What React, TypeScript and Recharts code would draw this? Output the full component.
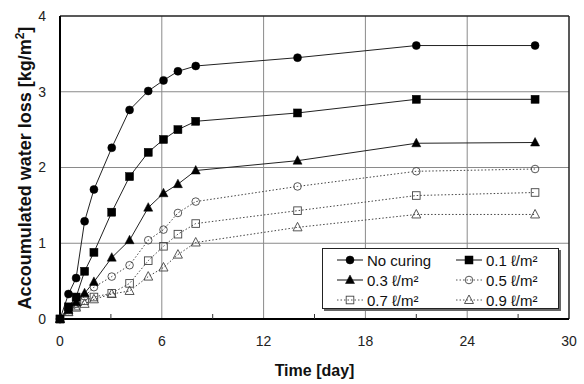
import { LineChart, Line, XAxis, YAxis, ReferenceLine } from "recharts";

// measurement days
const days = [0, 0.5, 0.95, 1.45, 2, 3.05, 4.1, 5.2, 6.1, 6.95, 8, 14, 21, 28];

// accumulated water loss [kg/m2]
const noCuring = [0, 0.33, 0.54, 1.29, 1.71, 2.26, 2.76, 3.01, 3.15, 3.27, 3.34, 3.45, 3.61, 3.61];
const cure01 = [0, 0.16, 0.29, 0.63, 0.88, 1.41, 1.88, 2.2, 2.37, 2.5, 2.61, 2.72, 2.9, 2.9];
const cure03 = [0, 0.12, 0.22, 0.34, 0.49, 0.81, 1.04, 1.47, 1.66, 1.78, 1.96, 2.09, 2.32, 2.33];
const cure05 = [0, 0.12, 0.2, 0.3, 0.42, 0.56, 0.71, 1.04, 1.18, 1.4, 1.55, 1.75, 1.95, 1.98];
const cure07 = [0, 0.1, 0.17, 0.24, 0.29, 0.34, 0.47, 0.77, 0.96, 1.12, 1.26, 1.43, 1.63, 1.67];
const cure09 = [0, 0.09, 0.15, 0.2, 0.26, 0.33, 0.37, 0.56, 0.68, 0.85, 1.01, 1.21, 1.38, 1.38];

const xTicks = [0, 3, 6, 9, 12, 15, 18, 21, 24, 27, 30];
const yTicks = [0, 1, 2, 3, 4];
const xGrid = [6, 12, 18, 24];
const yGrid = [1, 2, 3];

const series = [
  { key: "nc", name: "No curing", values: noCuring, shape: "circle", filled: true },
  { key: "c01", name: "0.1 ℓ/m²", values: cure01, shape: "square", filled: true },
  { key: "c03", name: "0.3 ℓ/m²", values: cure03, shape: "triangle", filled: true },
  { key: "c05", name: "0.5 ℓ/m²", values: cure05, shape: "circle", filled: false },
  { key: "c07", name: "0.7 ℓ/m²", values: cure07, shape: "square", filled: false },
  { key: "c09", name: "0.9 ℓ/m²", values: cure09, shape: "triangle", filled: false },
];

// drawing order: open series first, squares on top
const drawOrder = ["c09", "c07", "c05", "c03", "nc", "c01"];

const data = days.map((d, i) => {
  const row: Record<string, number> = { day: d };
  series.forEach((s) => (row[s.key] = s.values[i]));
  return row;
});

const FONT = "'Liberation Sans', Arial, sans-serif";

function Marker({ cx, cy, shape, filled }: { cx: number; cy: number; shape: string; filled: boolean }) {
  const fill = filled ? "#000" : "none";
  const stroke = filled ? "#000" : "#444";
  if (shape === "circle") {
    return <circle cx={cx} cy={cy} r={filled ? 4 : 3.8} fill={fill} stroke={stroke} strokeWidth={filled ? 0.5 : 0.9} />;
  }
  if (shape === "square") {
    const h = filled ? 4 : 3.8;
    return <rect x={cx - h} y={cy - h} width={h * 2} height={h * 2} fill={fill} stroke={stroke} strokeWidth={filled ? 0.5 : 0.9} />;
  }
  const pts = `${cx},${cy - 5} ${cx - 4.5},${cy + 3.5} ${cx + 4.5},${cy + 3.5}`;
  return <polygon points={pts} fill={fill} stroke={stroke} strokeWidth={filled ? 0.5 : 0.9} />;
}

const XTick = (props: any) => {
  const { x, y, payload } = props;
  const v = payload.value;
  if (v % 6 !== 0) {
    return <line x1={x} x2={x} y1={y} y2={y - 5} stroke="#333" strokeWidth={1} />;
  }
  return (
    <text x={x} y={y + 27} textAnchor="middle" fontSize={14} fill="#222" fontFamily={FONT}>
      {v}
    </text>
  );
};

const LegendBox = () => (
  <div
    style={{
      position: "absolute",
      left: 322,
      top: 248,
      width: 237,
      height: 61,
      background: "#fff",
      border: "1px solid #222",
      boxShadow: "2px 2px 0 #666",
      fontFamily: FONT,
      fontSize: 15,
      color: "#111",
      display: "grid",
      gridTemplateColumns: "119px 1fr",
      gridAutoRows: "20px",
      paddingLeft: 13,
      paddingTop: 1,
      boxSizing: "border-box",
      alignItems: "center",
    }}
  >
    {series.map((s) => (
      <div key={s.key} style={{ display: "flex", alignItems: "center", whiteSpace: "nowrap" }}>
        <svg width={28} height={12} style={{ marginRight: 3 }}>
          <line
            x1={1}
            x2={27}
            y1={6}
            y2={6}
            stroke={s.filled ? "#111" : "#555"}
            strokeWidth={1}
            strokeDasharray={s.filled ? undefined : "1.5 2"}
          />
          <Marker cx={14} cy={6} shape={s.shape} filled={s.filled} />
        </svg>
        <span>{s.name}</span>
      </div>
    ))}
  </div>
);

export default function App() {
  return (
    <div style={{ position: "absolute", left: 0, top: 0, width: 584, height: 384 }}>
      <LineChart
        width={584}
        height={384}
        data={data}
        margin={{ top: 16, right: 15, bottom: 0, left: 0 }}
        style={{ fontFamily: FONT }}
      >
        {xGrid.map((g) => (
          <ReferenceLine key={"x" + g} x={g} stroke="#8a8a8a" strokeWidth={1} />
        ))}
        {yGrid.map((g) => (
          <ReferenceLine key={"y" + g} y={g} stroke="#8a8a8a" strokeWidth={1} />
        ))}
        <ReferenceLine y={4} stroke="#222" strokeWidth={1.5} />
        <ReferenceLine x={30} stroke="#222" strokeWidth={1.5} />
        <XAxis
          dataKey="day"
          type="number"
          domain={[0, 30]}
          ticks={xTicks}
          interval={0}
          height={65}
          tickLine={false}
          tickSize={0}
          tickMargin={0}
          axisLine={{ stroke: "#000", strokeWidth: 2 }}
          tick={<XTick />}
          label={{
            value: "Time [day]",
            position: "insideBottom",
            offset: 8,
            style: { fontSize: 16, fontWeight: "bold", fill: "#111", fontFamily: FONT },
          }}
        />
        <YAxis
          type="number"
          domain={[0, 4]}
          ticks={yTicks}
          width={60}
          tickLine={false}
          tickSize={0}
          tickMargin={14}
          axisLine={{ stroke: "#000", strokeWidth: 2 }}
          tick={{ fontSize: 14, fill: "#222", fontFamily: FONT }}
          label={{
            content: () => (
              <text
                x={31}
                y={168}
                transform="rotate(-90 31 168)"
                textAnchor="middle"
                fontSize={18}
                fontWeight="bold"
                fill="#111"
                fontFamily={FONT}
              >
                Accoumulated water loss [kg/m
                <tspan dy={-7} fontSize={12}>2</tspan>
                <tspan dy={7}>]</tspan>
              </text>
            ),
          }}
        />
        {drawOrder.map((k) => {
          const s = series.find((x) => x.key === k)!;
          return (
            <Line
              key={s.key}
              dataKey={s.key}
              name={s.name}
              type="linear"
              stroke={s.filled ? "#222" : "#444"}
              strokeWidth={1}
              strokeDasharray={s.filled ? undefined : "1.5 2"}
              isAnimationActive={false}
              dot={(p: any) => (
                <Marker key={s.key + p.index} cx={p.cx} cy={p.cy} shape={s.shape} filled={s.filled} />
              )}
              activeDot={false}
            />
          );
        })}
      </LineChart>
      <LegendBox />
    </div>
  );
}
